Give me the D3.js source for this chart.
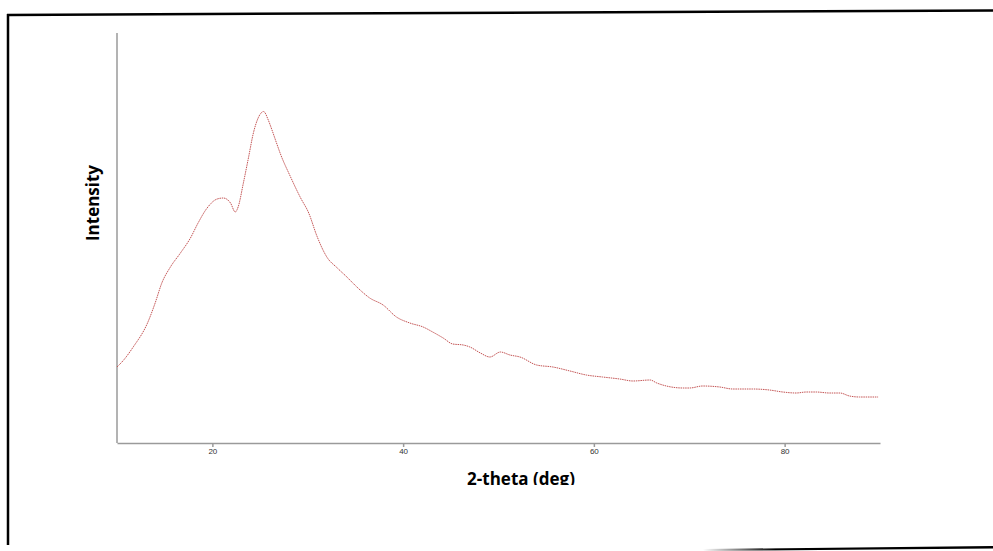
<!DOCTYPE html>
<html>
<head>
<meta charset="utf-8">
<script src="https://cdn.jsdelivr.net/npm/d3@7"></script>
<style>
  body { margin: 0; background: #fff; }
  svg { display: block; }
  .xaxis text { font-family: "Liberation Sans", Arial, sans-serif; font-size: 8px; fill: #333; }
  .xaxis path, .xaxis line { stroke: #9a9a9a; stroke-width: 1.5; }
  .lbl { font-family: "Open Sans", "Noto Sans", sans-serif; font-weight: bold; font-size: 17px; fill: #000; }
</style>
</head>
<body>
<div id="chart"></div>
<script>
// XRD pattern (intensity in arbitrary units)
var twoTheta = [10.0, 10.7, 11.7, 13.2, 14.0, 14.7, 15.6, 16.65, 17.7, 18.5, 19.45, 20.5, 21.15, 21.9, 22.4, 22.7,
  23.25, 23.8, 24.3, 24.8, 25.37, 25.86, 26.25, 26.8, 27.1, 28.2, 29.2, 30.1, 31.0, 32.0, 33.1, 34.1, 35.15,
  36.5, 37.9, 39.3, 40.7, 42.1, 43.1, 44.2, 45.2, 46.3, 47.0, 48.1, 49.1, 50.2, 51.2, 52.25, 54.0, 55.7, 57.5,
  59.2, 60.9, 62.7, 64.1, 65.9, 66.6, 67.6, 69.35, 70.05, 71.4, 73.2, 74.55, 76.65, 78.4, 79.8, 81.2, 82.3,
  83.3, 84.7, 85.8, 86.8, 87.85, 89.8];
var intensity = [76, 83, 96, 120, 140, 160, 176, 190, 205, 220, 235, 244, 245, 240, 231, 236,
  260, 286, 310, 325, 331.5, 323, 313, 298, 290, 266, 246, 230, 206, 186, 175, 166, 156,
  145, 138, 126, 120, 116, 111, 105, 99, 98, 96, 90, 86, 91, 88, 86, 78, 76, 72,
  68, 66, 64, 62, 63, 60, 57, 55, 55, 57, 56, 54, 54, 53, 51, 50, 51,
  51, 50, 50, 47, 46, 46];
var xTicks = [20, 40, 60, 80];
var xTitle = "2-theta (deg)";
var yTitle = "Intensity";

var W = 993, H = 551;
var margin = { left: 117, right: 113, top: 33, bottom: 108 };

var svg = d3.select("#chart").append("svg")
    .attr("width", W)
    .attr("height", H);

// frame of the pasted picture
var grad = svg.append("defs").append("linearGradient")
    .attr("id", "fade")
    .attr("x1", "0%").attr("x2", "100%");
grad.append("stop").attr("offset", "0%").attr("stop-color", "#000").attr("stop-opacity", 0);
grad.append("stop").attr("offset", "25%").attr("stop-color", "#000").attr("stop-opacity", 1);

svg.append("clipPath").attr("id", "cut")
  .append("rect").attr("x", 0).attr("y", 0).attr("width", W).attr("height", 485);

svg.append("line")
    .attr("x1", 7).attr("y1", 15).attr("x2", W).attr("y2", 10.5)
    .attr("stroke", "#000").attr("stroke-width", 2.5);
svg.append("line")
    .attr("x1", 8).attr("y1", 14).attr("x2", 8).attr("y2", 545)
    .attr("stroke", "#000").attr("stroke-width", 2.5);
svg.append("polygon")
    .attr("points", "703,549 " + W + ",546 " + W + ",548.5 703,551")
    .attr("fill", "url(#fade)");

var x = d3.scaleLinear()
    .domain([10, 90])
    .range([margin.left, W - margin.right]);

var y = d3.scaleLinear()
    .domain([0, 410])
    .range([H - margin.bottom, margin.top]);

// y axis line only
svg.append("line")
    .attr("x1", x(10)).attr("x2", x(10))
    .attr("y1", y(410)).attr("y2", y(0))
    .attr("stroke", "#9a9a9a").attr("stroke-width", 1.5);

svg.append("g")
    .attr("class", "xaxis")
    .attr("transform", "translate(0," + y(0) + ")")
    .call(d3.axisBottom(x).tickValues(xTicks).tickSize(4).tickSizeOuter(0).tickPadding(1));

var data = twoTheta.map(function(t, i) { return { t: t, v: intensity[i] }; });

var line = d3.line()
    .x(function(d) { return x(d.t); })
    .y(function(d) { return y(d.v); })
    .curve(d3.curveMonotoneX);

svg.append("path")
    .datum(data)
    .attr("fill", "none")
    .attr("stroke", "#c45555")
    .attr("stroke-width", 1)
    .attr("stroke-dasharray", "1.5,0.8")
    .attr("d", line);

svg.append("text")
    .attr("class", "lbl")
    .attr("clip-path", "url(#cut)")
    .attr("x", 521)
    .attr("y", 485)
    .attr("text-anchor", "middle")
    .text(xTitle);

svg.append("text")
    .attr("class", "lbl")
    .attr("transform", "translate(99,203) rotate(-90)")
    .attr("text-anchor", "middle")
    .text(yTitle);
</script>
</body>
</html>
